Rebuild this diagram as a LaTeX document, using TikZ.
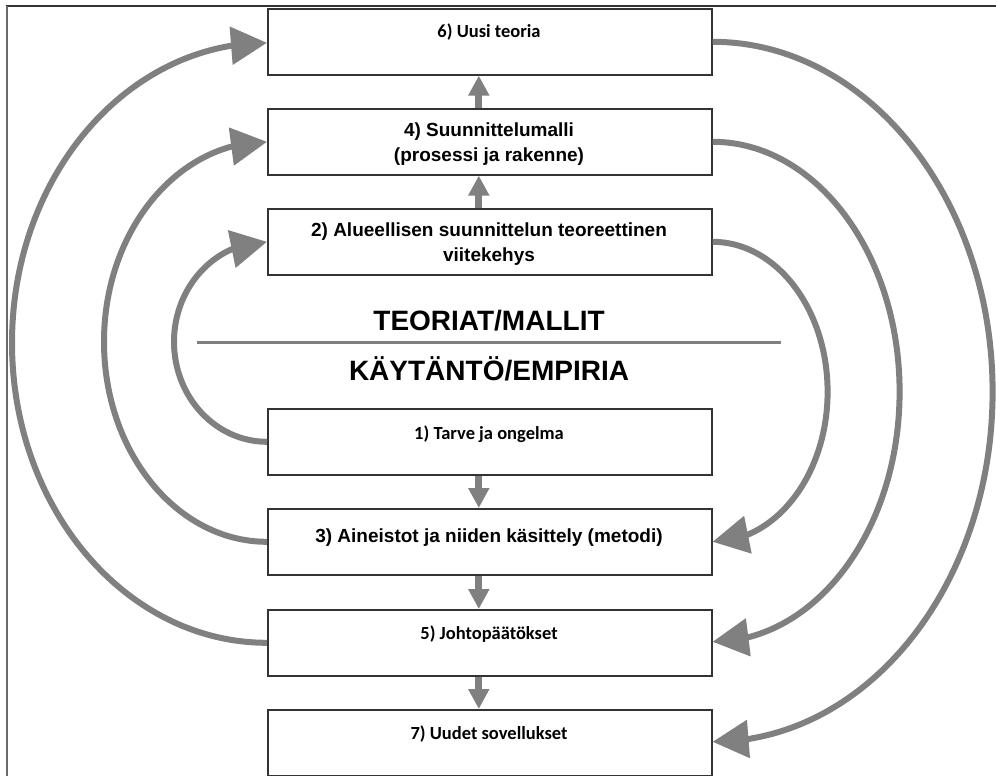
\documentclass[tikz,border=0pt]{standalone}
\usepackage{fontspec}
\setmainfont{Liberation Sans}
\newfontfamily\calfont{Carlito}
\usetikzlibrary{arrows.meta,bending}

\definecolor{flowgray}{HTML}{808080}
\definecolor{boxline}{HTML}{333333}
\definecolor{framegray}{HTML}{6A6A6A}

\begin{document}
\begin{tikzpicture}[x=1pt,y=-1pt,
  stage/.style={draw=boxline, line width=1.6pt, fill=white,
    minimum width=444pt, minimum height=66pt, inner sep=0pt,
    anchor=north west},
  caltext/.style={anchor=base, inner sep=0pt,
    font=\calfont\bfseries\fontsize{18.5}{22}\selectfont},
  arialtext/.style={anchor=base, inner sep=0pt,
    font=\bfseries\fontsize{19}{23}\selectfont},
  headline/.style={anchor=base, inner sep=0pt,
    font=\bfseries\fontsize{28}{32}\selectfont},
  stepflow/.style={draw=flowgray, line width=7pt,
    -{Triangle[width=20pt,length=20pt]}},
  loopflow/.style={draw=flowgray, line width=6pt,
    -{Triangle[width=37pt,length=36pt,flex]}}
]
\useasboundingbox (0,0) rectangle (996,776);

% outer frame (top and left edges only)
\draw[boxline, line width=2pt] (6,6) -- (996,6);
\draw[framegray, line width=2pt] (7,6) -- (7,776);

% stage boxes
\node[stage] (b6) at (267,8)   {};
\node[stage] (b4) at (267,108) {};
\node[stage] (b2) at (267,208) {};
\node[stage] (b1) at (267,408) {};
\node[stage] (b3) at (267,508) {};
\node[stage] (b5) at (267,609) {};
\node[stage] (b7) at (267,709) {};

% box labels
\node[caltext]   (t6)  at (489,38)  {6) Uusi teoria};
\node[arialtext] (t4a) at (489,136) {4) Suunnittelumalli};
\node[arialtext] (t4b) at (489,161) {(prosessi ja rakenne)};
\node[arialtext] (t2a) at (489,236) {2) Alueellisen suunnittelun teoreettinen};
\node[arialtext] (t2b) at (489,261) {viitekehys};
\node[caltext]   (t1)  at (489,439) {1) Tarve ja ongelma};
\node[arialtext] (t3)  at (489,542) {3) Aineistot ja niiden käsittely (metodi)};
\node[caltext]   (t5)  at (489,639) {5) Johtopäätökset};
\node[caltext]   (t7)  at (489,739) {7) Uudet sovellukset};

% divider between theory and practice
\node[headline] (theory)   at (489,330) {TEORIAT/MALLIT};
\draw[flowgray, line width=3pt] (197,342) -- (781,342);
\node[headline] (practice) at (489,380) {KÄYTÄNTÖ/EMPIRIA};

% straight steps between boxes
\draw[stepflow] ([xshift=-11pt]b4.north) -- ([xshift=-11pt]b6.south);
\draw[stepflow] ([xshift=-11pt]b2.north) -- ([xshift=-11pt]b4.south);
\draw[stepflow] ([xshift=-11pt]b1.south) -- ([xshift=-11pt]b3.north);
\draw[stepflow] ([xshift=-11pt]b3.south) -- ([xshift=-11pt]b5.north);
\draw[stepflow] ([xshift=-11pt]b5.south) -- ([xshift=-11pt]b7.north);

% loops from practice up to theory (left side)
\draw[loopflow] (b1.west) arc[start angle=90, end angle=270, x radius=93,  y radius=100];
\draw[loopflow] (b3.west) arc[start angle=90, end angle=270, x radius=163, y radius=200];
\draw[loopflow] (b5.west) arc[start angle=90, end angle=270, x radius=255, y radius=300];

% loops from theory down to practice (right side)
\draw[loopflow] (b2.east) arc[start angle=-90, end angle=90, x radius=115, y radius=150];
\draw[loopflow] (b4.east) arc[start angle=-90, end angle=90, x radius=187, y radius=250];
\draw[loopflow] (b6.east) arc[start angle=-90, end angle=90, x radius=280, y radius=350];
\end{tikzpicture}
\end{document}
